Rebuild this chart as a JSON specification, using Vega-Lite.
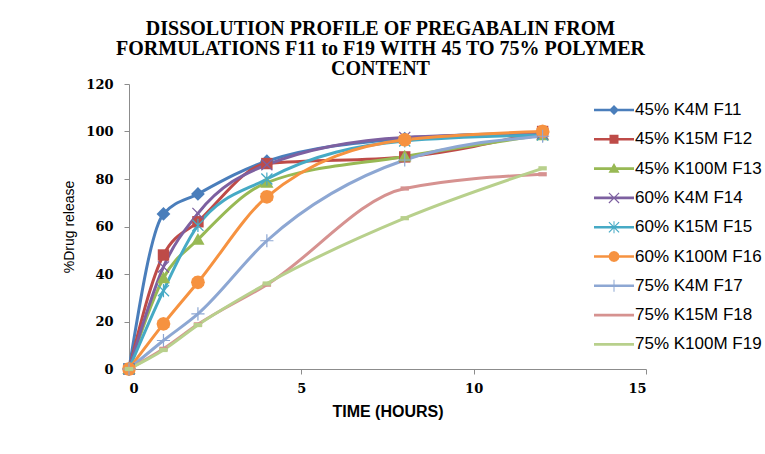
{
  "$schema": "https://vega.github.io/schema/vega-lite/v6.json",
  "autosize": "none",
  "width": 517,
  "height": 285,
  "padding": {"left": 129, "top": 84, "right": 119, "bottom": 85},
  "background": "white",
  "title": {
    "text": ["DISSOLUTION PROFILE OF PREGABALIN FROM", "FORMULATIONS F11 to F19 WITH 45 TO 75% POLYMER", "CONTENT"],
    "font": "Liberation Serif",
    "fontSize": 20,
    "fontWeight": "bold",
    "color": "#000000",
    "lineHeight": 20,
    "anchor": "middle",
    "dx": -7,
    "offset": -1
  },
  "data": {
    "values": [
      {"t": 0, "v": 0, "s": "45% K4M F11"}, {"t": 1, "v": 65.3, "s": "45% K4M F11"}, {"t": 2, "v": 73.7, "s": "45% K4M F11"}, {"t": 4, "v": 87.5, "s": "45% K4M F11"}, {"t": 8, "v": 97, "s": "45% K4M F11"}, {"t": 12, "v": 99.5, "s": "45% K4M F11"},
      {"t": 0, "v": 0, "s": "45% K15M F12"}, {"t": 1, "v": 48, "s": "45% K15M F12"}, {"t": 2, "v": 62, "s": "45% K15M F12"}, {"t": 4, "v": 86.5, "s": "45% K15M F12"}, {"t": 8, "v": 89.3, "s": "45% K15M F12"}, {"t": 12, "v": 100, "s": "45% K15M F12"},
      {"t": 0, "v": 0, "s": "45% K100M F13"}, {"t": 1, "v": 38.3, "s": "45% K100M F13"}, {"t": 2, "v": 54.5, "s": "45% K100M F13"}, {"t": 4, "v": 78.5, "s": "45% K100M F13"}, {"t": 8, "v": 89.5, "s": "45% K100M F13"}, {"t": 12, "v": 98.5, "s": "45% K100M F13"},
      {"t": 0, "v": 0, "s": "60% K4M F14"}, {"t": 1, "v": 43, "s": "60% K4M F14"}, {"t": 2, "v": 65.5, "s": "60% K4M F14"}, {"t": 4, "v": 86, "s": "60% K4M F14"}, {"t": 8, "v": 97.5, "s": "60% K4M F14"}, {"t": 12, "v": 99, "s": "60% K4M F14"},
      {"t": 0, "v": 0, "s": "60% K15M F15"}, {"t": 1, "v": 33, "s": "60% K15M F15"}, {"t": 2, "v": 60.5, "s": "60% K15M F15"}, {"t": 4, "v": 80, "s": "60% K15M F15"}, {"t": 8, "v": 96, "s": "60% K15M F15"}, {"t": 12, "v": 98.5, "s": "60% K15M F15"},
      {"t": 0, "v": 0, "s": "60% K100M F16"}, {"t": 1, "v": 19, "s": "60% K100M F16"}, {"t": 2, "v": 36.5, "s": "60% K100M F16"}, {"t": 4, "v": 72.5, "s": "60% K100M F16"}, {"t": 8, "v": 96.5, "s": "60% K100M F16"}, {"t": 12, "v": 100, "s": "60% K100M F16"},
      {"t": 0, "v": 0, "s": "75% K4M F17"}, {"t": 1, "v": 12, "s": "75% K4M F17"}, {"t": 2, "v": 23.2, "s": "75% K4M F17"}, {"t": 4, "v": 54, "s": "75% K4M F17"}, {"t": 8, "v": 88, "s": "75% K4M F17"}, {"t": 12, "v": 98, "s": "75% K4M F17"},
      {"t": 0, "v": 0, "s": "75% K15M F18"}, {"t": 1, "v": 8.5, "s": "75% K15M F18"}, {"t": 2, "v": 18.8, "s": "75% K15M F18"}, {"t": 4, "v": 35.5, "s": "75% K15M F18"}, {"t": 8, "v": 76, "s": "75% K15M F18"}, {"t": 12, "v": 82, "s": "75% K15M F18"},
      {"t": 0, "v": 0, "s": "75% K100M F19"}, {"t": 1, "v": 8, "s": "75% K100M F19"}, {"t": 2, "v": 18.5, "s": "75% K100M F19"}, {"t": 4, "v": 36, "s": "75% K100M F19"}, {"t": 8, "v": 63.5, "s": "75% K100M F19"}, {"t": 12, "v": 84.5, "s": "75% K100M F19"}
    ]
  },
  "encoding": {
    "x": {
      "field": "t", "type": "quantitative",
      "scale": {"domain": [0, 15], "nice": false},
      "axis": {"values": [0, 5, 10, 15], "title": "TIME (HOURS)", "grid": false,
        "labelFont": "DejaVu Serif", "labelFontWeight": "bold", "labelFontSize": 13, "labelColor": "#000000", "labelPadding": 8,
        "titleFont": "Liberation Sans", "titleFontWeight": "bold", "titleFontSize": 16, "titleColor": "#000000", "titlePadding": 8,
        "domainColor": "#8c8c8c", "tickColor": "#8c8c8c", "tickSize": 5}
    },
    "y": {
      "field": "v", "type": "quantitative",
      "scale": {"domain": [0, 120], "nice": false},
      "axis": {"values": [0, 20, 40, 60, 80, 100, 120], "title": "%Drug release", "grid": false,
        "labelFont": "DejaVu Serif", "labelFontWeight": "bold", "labelFontSize": 13, "labelColor": "#000000", "labelPadding": 11,
        "titleFont": "Liberation Sans", "titleFontWeight": "normal", "titleFontSize": 14, "titleColor": "#000000", "titlePadding": 9,
        "domainColor": "#8c8c8c", "tickColor": "#8c8c8c", "tickSize": 5}
    }
  },
  "layer": [
    {
      "mark": {"type": "line", "interpolate": "monotone", "strokeWidth": 3},
      "encoding": {
        "color": {
          "field": "s", "type": "nominal", "legend": null,
          "scale": {
            "domain": ["45% K4M F11", "45% K15M F12", "45% K100M F13", "60% K4M F14", "60% K15M F15", "60% K100M F16", "75% K4M F17", "75% K15M F18", "75% K100M F19"],
            "range": ["#4A7EBB", "#BE4B48", "#98B954", "#7D60A0", "#46AAC5", "#F69240", "#8DA7D3", "#D69290", "#B8D08C"]
          }
        }
      }
    },
    {
      "mark": {"type": "point", "filled": true, "size": 144, "opacity": 1, "strokeWidth": 0},
      "encoding": {
        "color": {"field": "s", "type": "nominal", "legend": null},
        "shape": {
          "field": "s", "type": "nominal", "legend": null,
          "scale": {
            "domain": ["45% K4M F11", "45% K15M F12", "45% K100M F13", "60% K4M F14", "60% K15M F15", "60% K100M F16", "75% K4M F17", "75% K15M F18", "75% K100M F19"],
            "range": [
              "M0,-1.15L1.15,0L0,1.15L-1.15,0Z",
              "M-0.95,-0.95H0.95V0.95H-0.95Z",
              "M0,-1.1L1.1,0.85H-1.1Z",
              "M-1,-0.85L-0.85,-1L1,0.85L0.85,1Z M0.85,-1L1,-0.85L-0.85,1L-1,0.85Z",
              "M-1,-0.85L-0.85,-1L1,0.85L0.85,1Z M0.85,-1L1,-0.85L-0.85,1L-1,0.85Z M-0.1,-1.1H0.1V1.1H-0.1Z",
              "M1.15,0L0.996,0.575L0.575,0.996L0,1.15L-0.575,0.996L-0.996,0.575L-1.15,0L-0.996,-0.575L-0.575,-0.996L0,-1.15L0.575,-0.996L0.996,-0.575Z",
              "M-1.1,-0.1H1.1V0.1H-1.1Z M-0.1,-1.1H0.1V1.1H-0.1Z",
              "M-0.7,-0.35H0.7V0.35H-0.7Z",
              "M-0.7,-0.35H0.7V0.35H-0.7Z"
            ]
          }
        }
      }
    },
    {
      "transform": [{"filter": "datum.t < 0"}],
      "mark": {"type": "point", "filled": true, "opacity": 1, "strokeWidth": 0},
      "encoding": {
        "color": {
          "field": "s", "type": "nominal",
          "legend": {
            "orient": "none", "legendX": 475, "legendY": 16, "title": null, "padding": 0,
            "symbolSize": 400, "labelOffset": 11, "rowPadding": 11.3, "symbolStrokeWidth": 0, "symbolOpacity": 1,
            "labelFont": "Liberation Sans", "labelFontSize": 17, "labelColor": "#000000", "labelLimit": 300
          }
        },
        "shape": {
          "field": "s", "type": "nominal",
          "legend": {
            "orient": "none", "legendX": 475, "legendY": 16, "title": null, "padding": 0,
            "symbolSize": 400, "labelOffset": 11, "rowPadding": 11.3, "symbolStrokeWidth": 0, "symbolOpacity": 1,
            "labelFont": "Liberation Sans", "labelFontSize": 17, "labelColor": "#000000", "labelLimit": 300
          },
          "scale": {
            "domain": ["45% K4M F11", "45% K15M F12", "45% K100M F13", "60% K4M F14", "60% K15M F15", "60% K100M F16", "75% K4M F17", "75% K15M F18", "75% K100M F19"],
            "range": [
              "M-2,-0.13H2V0.13H-2Z M0,-0.5L0.5,0L0,0.5L-0.5,0Z",
              "M-2,-0.13H2V0.13H-2Z M-0.45,-0.45H0.45V0.45H-0.45Z",
              "M-2,-0.13H2V0.13H-2Z M0,-0.55L0.55,0.42H-0.55Z",
              "M-2,-0.13H2V0.13H-2Z M-0.55,-0.47L-0.47,-0.55L0.55,0.47L0.47,0.55Z M0.47,-0.55L0.55,-0.47L-0.47,0.55L-0.55,0.47Z",
              "M-2,-0.13H2V0.13H-2Z M-0.55,-0.47L-0.47,-0.55L0.55,0.47L0.47,0.55Z M0.47,-0.55L0.55,-0.47L-0.47,0.55L-0.55,0.47Z M-0.05,-0.6H0.05V0.6H-0.05Z",
              "M-2,-0.13H2V0.13H-2Z M0.55,0L0.476,0.275L0.275,0.476L0,0.55L-0.275,0.476L-0.476,0.275L-0.55,0L-0.476,-0.275L-0.275,-0.476L0,-0.55L0.275,-0.476L0.476,-0.275Z",
              "M-2,-0.13H2V0.13H-2Z M-0.05,-0.6H0.05V0.6H-0.05Z",
              "M-2,-0.13H2V0.13H-2Z",
              "M-2,-0.13H2V0.13H-2Z"
            ]
          }
        }
      }
    }
  ],
  "resolve": {
    "scale": {"shape": "independent"},
    "legend": {"color": "independent", "shape": "independent"}
  },
  "config": {
    "view": {"stroke": null},
    "axis": {"ticks": true}
  }
}
